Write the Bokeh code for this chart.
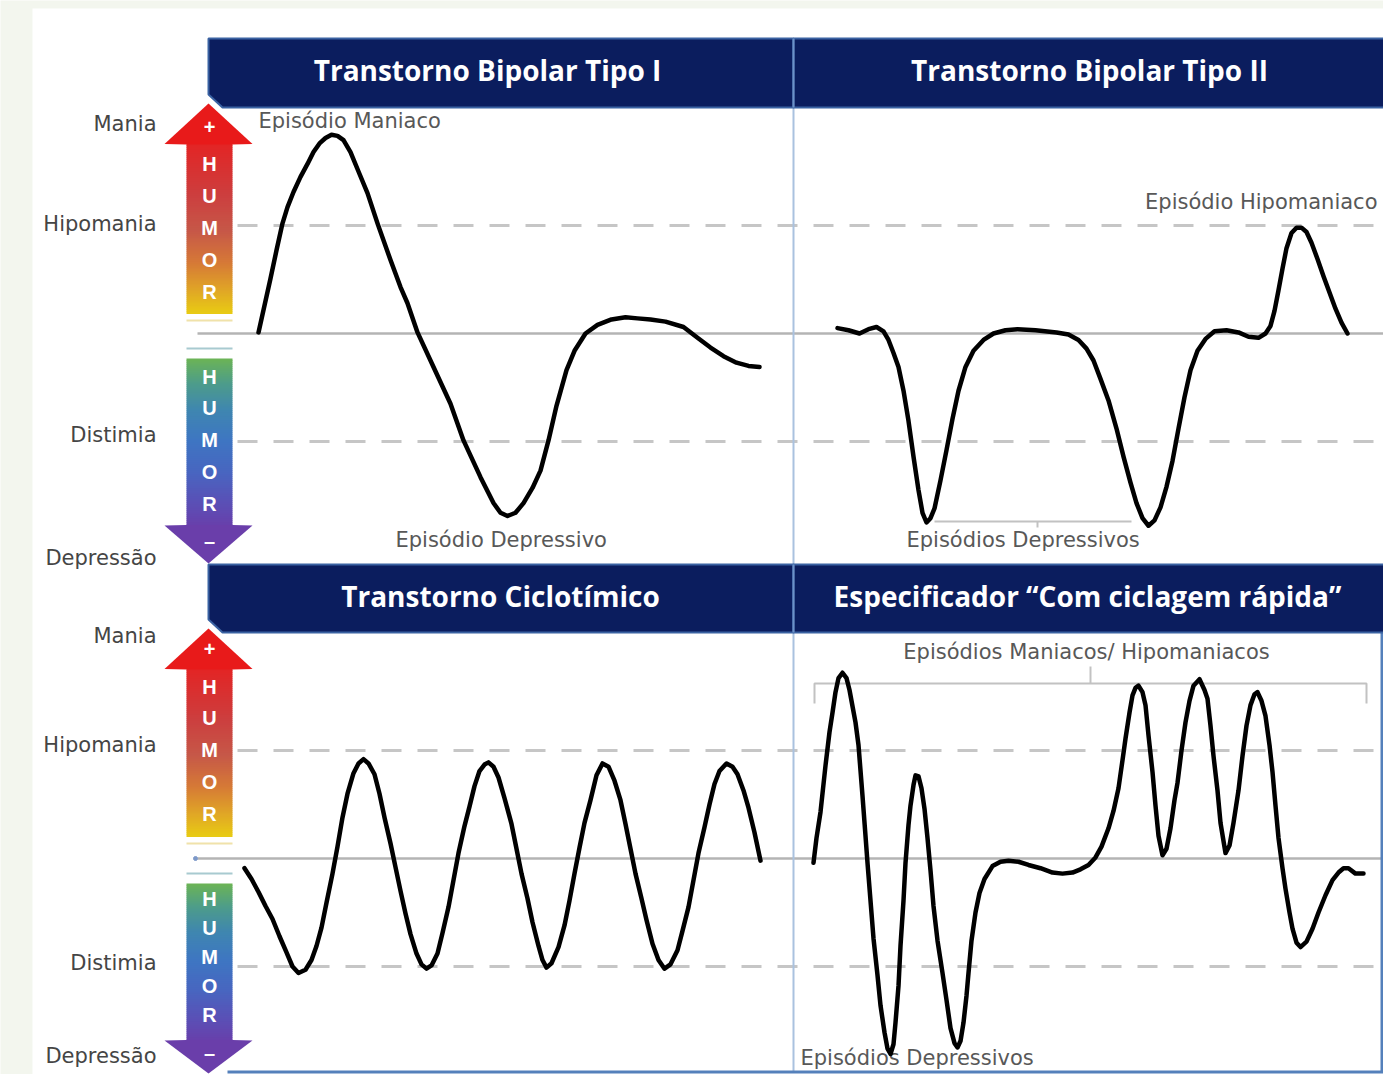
from bokeh.plotting import figure
from bokeh.models import Range1d
from bokeh.core.properties import value
from bokeh.embed import file_html
from bokeh.resources import INLINE

# ---------------- data (time, mood) ; mood: Hipomania = +1, Distimia = -1 ----------------
panel_titles = ["Transtorno Bipolar Tipo I", "Transtorno Bipolar Tipo II",
                "Transtorno Ciclotímico", "Especificador “Com ciclagem rápida”"]
mood_labels = ["Mania", "Hipomania", "Distimia", "Depressão"]
mood_label_top = [1.94, 1.01, -0.94, -2.08]
mood_label_bottom = [2.06, 1.05, -0.97, -1.83]
ref_levels = [1.0, -1.0]          # Hipomania / Distimia thresholds
euthymia = 0.0
arrow_letters_up = ["+", "H", "U", "M", "O", "R"]
arrow_letters_down = ["H", "U", "M", "O", "R", "–"]

bipolar1 = [(11.6, 0.01), (12.8, 0.26), (14.0, 0.51), (15.2, 0.77), (16.4, 1.02), (17.4, 1.17),
            (18.6, 1.31), (20.0, 1.45), (21.4, 1.57), (22.6, 1.68), (23.8, 1.76), (25.0, 1.81),
            (26.2, 1.84), (27.4, 1.83), (28.6, 1.79), (30.0, 1.68), (31.6, 1.50), (33.4, 1.30),
            (35.4, 1.02), (38.0, 0.68), (40.0, 0.43), (41.4, 0.28), (43.4, 0.01), (46.6, -0.31),
            (50.0, -0.65), (52.6, -0.99), (56.0, -1.33), (58.6, -1.57), (60.0, -1.66), (61.4, -1.69),
            (63.0, -1.66), (64.6, -1.57), (66.4, -1.43), (68.0, -1.27), (69.6, -0.99), (71.2, -0.67),
            (73.2, -0.34), (74.8, -0.16), (77.0, 0.00), (79.4, 0.08), (82.2, 0.13), (85.0, 0.15),
            (87.4, 0.14), (90.0, 0.13), (93.0, 0.11), (96.6, 0.06), (99.4, -0.04), (102.0, -0.13),
            (104.6, -0.21), (107.2, -0.27), (109.6, -0.30), (111.8, -0.31)]

bipolar2 = [(9.4, 0.05), (11.6, 0.03), (13.8, 0.00), (15.6, 0.04), (17.2, 0.06), (18.6, 0.02),
            (19.6, -0.06), (20.6, -0.18), (21.6, -0.31), (22.6, -0.53), (23.6, -0.81), (24.6, -1.14),
            (25.6, -1.45), (26.4, -1.66), (27.2, -1.75), (28.0, -1.71), (28.8, -1.62), (30.0, -1.36),
            (31.2, -1.08), (32.4, -0.79), (33.6, -0.53), (35.0, -0.31), (36.6, -0.16), (38.6, -0.06),
            (40.6, 0.00), (43.0, 0.03), (45.4, 0.04), (49.0, 0.03), (53.2, 0.01), (55.6, -0.01),
            (57.6, -0.06), (59.2, -0.14), (60.6, -0.25), (62.0, -0.42), (63.6, -0.62), (65.2, -0.88),
            (66.6, -1.14), (68.0, -1.38), (69.2, -1.57), (70.4, -1.71), (71.6, -1.78), (72.8, -1.73),
            (74.0, -1.61), (75.2, -1.42), (76.4, -1.18), (77.6, -0.88), (78.8, -0.59), (80.0, -0.34),
            (81.4, -0.16), (83.0, -0.05), (84.8, 0.02), (87.2, 0.03), (89.6, 0.01), (91.6, -0.03),
            (93.6, -0.04), (95.0, 0.00), (96.0, 0.07), (96.8, 0.21), (97.6, 0.40), (98.4, 0.60),
            (99.2, 0.79), (100.2, 0.93), (101.2, 0.98), (102.2, 0.98), (103.2, 0.94), (104.2, 0.84),
            (105.4, 0.69), (106.6, 0.53), (107.8, 0.38), (109.0, 0.23), (110.2, 0.10), (111.4, 0.00)]

cyclothymic = [(8.8, -0.09), (10.2, -0.19), (11.6, -0.31), (13.0, -0.44), (14.4, -0.56), (15.8, -0.72),
               (17.2, -0.87), (18.4, -1.00), (19.6, -1.06), (21.0, -1.03), (22.2, -0.94), (23.2, -0.81),
               (24.2, -0.64), (25.2, -0.41), (26.4, -0.14), (27.4, 0.11), (28.4, 0.38), (29.4, 0.60),
               (30.6, 0.79), (31.6, 0.88), (32.6, 0.92), (33.6, 0.88), (34.8, 0.78), (35.8, 0.60),
               (36.8, 0.38), (38.0, 0.14), (39.0, -0.08), (40.0, -0.30), (41.0, -0.51), (42.0, -0.70),
               (43.2, -0.88), (44.2, -0.98), (45.2, -1.02), (46.2, -0.99), (47.4, -0.88), (48.4, -0.69),
               (49.6, -0.45), (50.6, -0.20), (51.6, 0.05), (52.8, 0.30), (53.8, 0.48), (54.8, 0.67),
               (55.8, 0.81), (56.8, 0.87), (57.6, 0.89), (58.6, 0.85), (59.6, 0.75), (60.8, 0.56),
               (62.2, 0.32), (63.2, 0.09), (64.2, -0.14), (65.4, -0.37), (66.4, -0.59), (67.6, -0.81),
               (68.4, -0.94), (69.2, -1.01), (70.2, -0.97), (71.6, -0.82), (72.8, -0.62), (73.8, -0.39),
               (74.8, -0.14), (75.8, 0.10), (76.8, 0.33), (78.0, 0.54), (79.2, 0.77), (80.4, 0.88),
               (81.6, 0.85), (82.8, 0.72), (84.0, 0.54), (85.0, 0.32), (86.0, 0.09), (87.0, -0.14),
               (88.2, -0.37), (89.2, -0.57), (90.4, -0.79), (91.6, -0.94), (92.8, -1.02), (94.0, -0.98),
               (95.4, -0.85), (96.4, -0.67), (97.6, -0.45), (98.6, -0.20), (99.6, 0.05), (100.8, 0.29),
               (101.8, 0.50), (102.8, 0.69), (103.8, 0.81), (105.2, 0.88), (106.4, 0.85), (107.4, 0.78),
               (108.6, 0.63), (109.6, 0.47), (110.8, 0.24), (112.0, -0.02)]

rapid_cycling = [(4.6, -0.04), (5.2, 0.19), (6.0, 0.43), (7.0, 0.86), (7.8, 1.17), (8.4, 1.35),
                 (9.0, 1.54), (9.6, 1.67), (10.4, 1.72), (11.2, 1.67), (11.8, 1.56), (12.4, 1.41),
                 (13.0, 1.26), (13.6, 1.05), (14.4, 0.58), (15.0, 0.21), (15.4, -0.04), (16.0, -0.39),
                 (16.6, -0.74), (17.4, -1.08), (18.0, -1.36), (18.8, -1.61), (19.4, -1.76), (20.0, -1.81),
                 (20.6, -1.72), (21.0, -1.52), (21.6, -1.18), (22.0, -0.81), (22.6, -0.39), (23.0, -0.04),
                 (23.6, 0.31), (24.0, 0.49), (24.6, 0.68), (25.0, 0.77), (25.6, 0.76), (26.2, 0.65),
                 (26.8, 0.46), (27.4, 0.19), (28.0, -0.11), (28.6, -0.44), (29.4, -0.76), (30.4, -1.06),
                 (31.2, -1.31), (32.0, -1.57), (32.8, -1.71), (33.4, -1.75), (34.0, -1.69), (34.6, -1.52),
                 (35.2, -1.27), (35.6, -1.06), (36.2, -0.76), (37.0, -0.50), (37.8, -0.32), (38.8, -0.19),
                 (40.4, -0.07), (42.0, -0.03), (43.6, -0.02), (45.6, -0.03), (47.6, -0.06), (50.0, -0.09),
                 (52.4, -0.13), (54.4, -0.14), (56.4, -0.13), (58.0, -0.10), (59.6, -0.06), (61.0, 0.01),
                 (62.2, 0.11), (63.6, 0.28), (64.6, 0.44), (65.6, 0.65), (66.4, 0.91), (67.0, 1.11),
                 (67.8, 1.35), (68.4, 1.51), (69.0, 1.58), (69.6, 1.60), (70.4, 1.54), (71.0, 1.42),
                 (71.6, 1.14), (72.4, 0.80), (73.0, 0.49), (73.6, 0.21), (74.4, 0.03), (75.2, 0.09),
                 (76.0, 0.28), (76.8, 0.54), (77.4, 0.70), (78.2, 1.00), (79.0, 1.26), (79.8, 1.46),
                 (80.6, 1.60), (81.8, 1.66), (82.8, 1.56), (83.4, 1.48), (84.0, 1.23), (84.6, 0.95),
                 (85.4, 0.63), (86.0, 0.33), (87.0, 0.05), (87.8, 0.12), (88.6, 0.33), (89.6, 0.63),
                 (90.4, 0.95), (91.2, 1.23), (92.0, 1.42), (92.8, 1.52), (93.4, 1.54), (94.2, 1.46),
                 (95.0, 1.32), (95.8, 1.05), (96.4, 0.80), (97.0, 0.49), (97.6, 0.19), (98.4, -0.09),
                 (99.0, -0.28), (99.8, -0.50), (100.4, -0.65), (101.2, -0.78), (102.0, -0.82), (103.2, -0.77),
                 (104.4, -0.65), (105.6, -0.50), (107.0, -0.34), (108.4, -0.20), (109.6, -0.13), (110.6, -0.09),
                 (111.6, -0.09), (113.0, -0.14), (114.6, -0.14)]

# ---------------- layout (picture pixels) ----------------
W, H = 1383, 1074
PX_L, PX_R, PY_T, PY_B = 0, W, 0, H
PX_PER_T = 5.0
PX_PER_M = 108.0
col_x0 = {"left": 200.0, "right": 790.0}
row_base = {"top": 333.0, "bottom": 858.0}

p = figure(width=W, height=H, x_range=Range1d(PX_L, PX_R), y_range=Range1d(PY_B, PY_T),
           x_axis_type=None, y_axis_type=None, toolbar_location=None, output_backend="svg",
           min_border=0, background_fill_color="#f3f6ee", border_fill_color="#f3f6ee",
           outline_line_color=None)
p.grid.visible = False
p.extra_x_ranges = {k: Range1d((PX_L - x0) / PX_PER_T, (PX_R - x0) / PX_PER_T) for k, x0 in col_x0.items()}
p.extra_y_ranges = {k: Range1d((b - PY_B) / PX_PER_M, (b - PY_T) / PX_PER_M) for k, b in row_base.items()}

# white sheet
p.quad(left=32, right=1400, top=8, bottom=1100, fill_color="white", line_color=None)

# reference lines
for row in ["top", "bottom"]:
    p.segment(x0=[197], x1=[1384], y0=[euthymia], y1=[euthymia], y_range_name=row,
              line_color="#b4b4b4", line_width=2.5)
    p.segment(x0=[237, 237], x1=[1384, 1384], y0=ref_levels, y1=ref_levels, y_range_name=row,
              line_color="#c6c6c6", line_width=3, line_dash="20 16")

# panel dividers / borders
p.segment(x0=[793, 793], x1=[793, 793], y0=[107, 632], y1=[564, 1072], line_color="#aac2df", line_width=2)
p.segment(x0=[1381.5, 227], x1=[1381.5, 1384], y0=[632, 1071.5], y1=[1071.5, 1071.5],
          line_color="#5480bb", line_width=3)


def hexrgb(h):
    return tuple(int(h[i:i + 2], 16) for i in (1, 3, 5))


def grad(stops, y):
    for (ya, ca), (yb, cb) in zip(stops[:-1], stops[1:]):
        if ya <= y <= yb and yb > ya:
            f = (y - ya) / (yb - ya)
            a, b = hexrgb(ca), hexrgb(cb)
            return "#%02x%02x%02x" % tuple(int(round(a[i] + f * (b[i] - a[i]))) for i in range(3))
    return stops[-1][1] if y > stops[-1][0] else stops[0][1]


up_stops = [(0.0, "#e32424"), (0.31, "#cc3f3f"), (0.52, "#c65848"),
            (0.71, "#d67a36"), (0.87, "#e0a626"), (1.0, "#e8ca14")]
down_stops = [(0.0, "#6cb455"), (0.15, "#4d9c8a"), (0.31, "#3f86b0"), (0.49, "#3e76c2"),
              (0.68, "#4866c0"), (0.86, "#5a50b6"), (1.0, "#6840ab")]

# arrow geometry per row: (up tip, up head base, up shaft end, down shaft start, down head base, down tip)
arrow_geo = {"top": (103, 143, 312, 358, 525, 563), "bottom": (628, 668, 835, 883, 1040, 1073)}
letters_up_y = {"top": [126, 163, 195, 227, 259, 291], "bottom": [648, 686, 717, 749, 781, 813]}
letters_down_y = {"top": [376, 407, 439, 471, 503, 540], "bottom": [898, 927, 956, 985, 1014, 1052]}

for row in ["top", "bottom"]:
    tip_u, base_u, end_u, start_d, base_d, tip_d = arrow_geo[row]
    # upward arrow (red -> yellow)
    ys = list(range(base_u, end_u, 2))
    p.quad(left=186, right=232, top=ys, bottom=[y + 2.5 for y in ys],
           fill_color=[grad(up_stops, (y + 1 - base_u) / (end_u - base_u)) for y in ys], line_color=None)
    p.patch([164, 208, 252, 232, 186], [base_u + 0.5, tip_u, base_u + 0.5, base_u + 1, base_u + 1],
            fill_color="#e81a1a", line_color=None)
    # downward arrow (green -> purple)
    ys = list(range(start_d, base_d, 2))
    p.quad(left=186, right=232, top=ys, bottom=[y + 2.5 for y in ys],
           fill_color=[grad(down_stops, (y + 1 - start_d) / (base_d - start_d)) for y in ys], line_color=None)
    p.patch([164, 186, 232, 252, 208], [base_d, base_d - 0.5, base_d - 0.5, base_d, tip_d],
            fill_color="#6a3eaa", line_color=None)
    # faint reflections
    p.segment(x0=[186, 186], x1=[232, 232], y0=[end_u + 8, start_d - 10], y1=[end_u + 8, start_d - 10],
              line_color=["#f0e2aa", "#a8cad0"], line_width=2)
    # arrow letters
    p.text(x=[209] * 6, y=letters_up_y[row], text=arrow_letters_up, text_align="center",
           text_baseline="middle", text_color="white", text_font=value("Liberation Sans"),
           text_font_style="bold", text_font_size="20px")
    p.text(x=[209] * 6, y=letters_down_y[row], text=arrow_letters_down, text_align="center",
           text_baseline="middle", text_color="white", text_font=value("Liberation Sans"),
           text_font_style="bold", text_font_size="20px")

p.scatter(x=[195], y=[euthymia], y_range_name="bottom", size=4, color="#7c98c8")

# mood level labels
for row, ys in [("top", mood_label_top), ("bottom", mood_label_bottom)]:
    p.text(x=[156] * 4, y=ys, y_range_name=row, text=mood_labels, text_align="right",
           text_baseline="middle", text_color="#454545", text_font=value("DejaVu Sans"),
           text_font_size="21px")

# header bars
for (top, bot) in [(38, 107), (564, 632)]:
    p.patch([208, 793, 793, 222, 208], [top, top, bot, bot, bot - 13],
            fill_color="#0b1d5e", line_color="#3a62a2", line_width=2)
    p.patch([793, 1384, 1384, 793], [top, top, bot, bot],
            fill_color="#0b1d5e", line_color="#3a62a2", line_width=2)
    p.segment(x0=[793], x1=[793], y0=[top], y1=[bot], line_color="#6d92c8", line_width=2)

p.text(x=[487, 1089, 500, 1087], y=[69, 69, 595, 595], text=panel_titles, text_align="center",
       text_baseline="middle", text_color="white", text_font=value("Open Sans"), text_font_style="bold",
       text_font_size="28px")

# brackets
p.multi_line(xs=[[934, 1131], [1037, 1037], [814, 814, 1366, 1366], [1090, 1090]],
             ys=[[521, 521], [521, 527], [703, 683, 683, 703], [683, 666]],
             line_color="#c2c2c2", line_width=2)

# episode labels
lab = dict(text_baseline="middle", text_color="#585858", text_font=value("DejaVu Sans"),
           text_font_size="21px")
p.text(x=[258, 395, 906, 800], y=[120, 539, 539, 1057],
       text=["Episódio Maniaco", "Episódio Depressivo", "Episódios Depressivos", "Episódios Depressivos"],
       text_align="left", **lab)
p.text(x=[1377], y=[201], text=["Episódio Hipomaniaco"], text_align="right", **lab)
p.text(x=[1086], y=[651], text=["Episódios Maniacos/ Hipomaniacos"], text_align="center", **lab)

# mood curves
curves = [(bipolar1, "left", "top"), (bipolar2, "right", "top"),
          (cyclothymic, "left", "bottom"), (rapid_cycling, "right", "bottom")]
for pts, col, row in curves:
    t = [a for a, b in pts]
    m = [b for a, b in pts]
    p.line(t, m, x_range_name=col, y_range_name=row, line_color="black", line_width=4.5,
           line_join="round", line_cap="round")

open("out.html", "w").write(file_html(p, INLINE))
